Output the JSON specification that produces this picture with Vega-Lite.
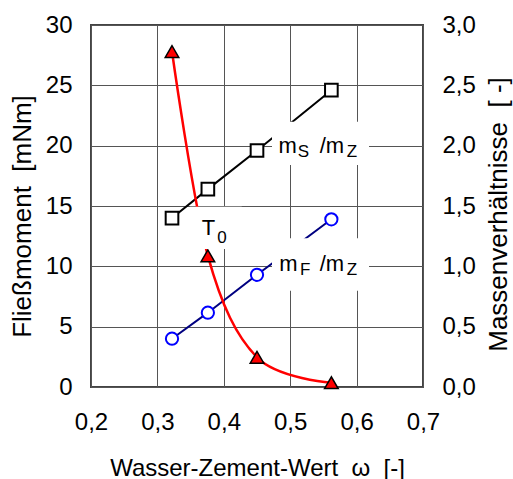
{
  "$schema": "https://vega.github.io/schema/vega-lite/v6.json",
  "width": 332,
  "height": 362,
  "autosize": {"type": "none"},
  "padding": {"left": 91, "top": 25, "right": 90, "bottom": 92},
  "background": "white",
  "config": {
    "font": "Liberation Sans",
    "view": {"stroke": "#444444", "strokeWidth": 2},
    "axis": {
      "labelFont": "Liberation Sans",
      "labelFontSize": 24,
      "labelColor": "#000000",
      "titleFont": "Liberation Sans",
      "titleFontSize": 24,
      "titleFontWeight": "normal",
      "titleColor": "#000000",
      "domain": false,
      "ticks": false,
      "gridColor": "#555555",
      "gridWidth": 1,
      "gridOpacity": 1,
      "labelFlush": false,
      "labelOverlap": false,
      "labelBound": false
    }
  },
  "datasets": {
    "tri": [
      {"w": 0.322, "M": 27.8},
      {"w": 0.376, "M": 10.87},
      {"w": 0.45, "M": 2.46},
      {"w": 0.562, "M": 0.36}
    ],
    "ratio": [
      {"w": 0.322, "r": 1.40, "s": "S"},
      {"w": 0.376, "r": 1.64, "s": "S"},
      {"w": 0.45, "r": 1.96, "s": "S"},
      {"w": 0.562, "r": 2.46, "s": "S"},
      {"w": 0.322, "r": 0.40, "s": "F"},
      {"w": 0.376, "r": 0.616, "s": "F"},
      {"w": 0.45, "r": 0.93, "s": "F"},
      {"w": 0.562, "r": 1.39, "s": "F"}
    ],
    "boxes": [
      {"x1": 0.4726, "x2": 0.6187, "y1": 18.39, "y2": 21.98},
      {"x1": 0.4726, "x2": 0.6187, "y1": 7.98, "y2": 12.32},
      {"x1": 0.349, "x2": 0.427, "y1": 11.43, "y2": 14.94}
    ],
    "mainText": [
      {"t": "m", "x": 0.4824, "y": 19.39},
      {"t": "/m", "x": 0.5445, "y": 19.39},
      {"t": "m", "x": 0.4834, "y": 9.635},
      {"t": "/m", "x": 0.5445, "y": 9.635},
      {"t": "T", "x": 0.3669, "y": 12.59}
    ],
    "subText": [
      {"t": "S", "x": 0.5112, "y": 19.03},
      {"t": "Z", "x": 0.5853, "y": 19.03},
      {"t": "F", "x": 0.5148, "y": 9.28},
      {"t": "Z", "x": 0.5853, "y": 9.28},
      {"t": "0", "x": 0.3902, "y": 11.9}
    ]
  },
  "layer": [
    {
      "layer": [
        {
          "data": {"name": "ratio"},
          "transform": [{"filter": "datum.s === 'S'"}],
          "mark": {"type": "line", "color": "#000000", "strokeWidth": 2},
          "encoding": {
            "x": {"field": "w", "type": "quantitative", "scale": {"domain": [0.2, 0.7], "nice": false, "zero": false},
              "axis": {"values": [0.2, 0.3, 0.4, 0.5, 0.6, 0.7], "labelExpr": "replace(format(datum.value, '.1f'), '.', ',')", "grid": true, "labelPadding": 23, "titlePadding": 22, "title": "Wasser-Zement-Wert\u00a0\u00a0ω\u00a0\u00a0[-]"}},
            "y": {"field": "r", "type": "quantitative", "scale": {"domain": [0, 3], "nice": false, "zero": false},
              "axis": {"orient": "right", "values": [0, 0.5, 1, 1.5, 2, 2.5, 3], "labelExpr": "replace(format(datum.value, '.1f'), '.', ',')", "grid": false, "labelPadding": 19, "titlePadding": 10, "titleAngle": 270, "titleBaseline": "top", "titleFontSize": 26, "titleY": 189, "title": "Massenverhältnisse\u00a0\u00a0[\u00a0-]"}}
          }
        },
        {
          "data": {"name": "ratio"},
          "transform": [{"filter": "datum.s === 'F'"}],
          "mark": {"type": "line", "color": "#000080", "strokeWidth": 2},
          "encoding": {
            "x": {"field": "w", "type": "quantitative"},
            "y": {"field": "r", "type": "quantitative"}
          }
        },
        {
          "data": {"name": "ratio"},
          "transform": [{"filter": "datum.s === 'S'"}],
          "mark": {"type": "point", "shape": "square", "size": 160, "filled": false, "fill": "#ffffff", "fillOpacity": 1, "stroke": "#000000", "strokeWidth": 2, "opacity": 1},
          "encoding": {
            "x": {"field": "w", "type": "quantitative"},
            "y": {"field": "r", "type": "quantitative"}
          }
        },
        {
          "data": {"name": "ratio"},
          "transform": [{"filter": "datum.s === 'F'"}],
          "mark": {"type": "point", "shape": "circle", "size": 150, "filled": false, "fill": "#ffffff", "fillOpacity": 1, "stroke": "#0000ff", "strokeWidth": 2, "opacity": 1},
          "encoding": {
            "x": {"field": "w", "type": "quantitative"},
            "y": {"field": "r", "type": "quantitative"}
          }
        }
      ]
    },
    {
      "layer": [
        {
          "data": {"name": "tri"},
          "mark": {"type": "line", "color": "#ff0000", "strokeWidth": 2.5, "interpolate": "cardinal"},
          "encoding": {
            "x": {"field": "w", "type": "quantitative"},
            "y": {"field": "M", "type": "quantitative", "scale": {"domain": [0, 30], "nice": false, "zero": false},
              "axis": {"orient": "left", "values": [0, 5, 10, 15, 20, 25, 30], "grid": true, "labelPadding": 19, "titlePadding": 10, "titleFontSize": 26, "titleY": 191, "title": "Fließmoment\u00a0\u00a0[mNm]"}}
          }
        },
        {
          "data": {"name": "tri"},
          "mark": {"type": "point", "shape": "triangle-up", "size": 185, "filled": true, "fill": "#ff0000", "stroke": "#000000", "strokeWidth": 1.5, "opacity": 1},
          "encoding": {
            "x": {"field": "w", "type": "quantitative"},
            "y": {"field": "M", "type": "quantitative"}
          }
        },
        {
          "data": {"name": "boxes"},
          "mark": {"type": "rect", "fill": "#ffffff", "stroke": null},
          "encoding": {
            "x": {"field": "x1", "type": "quantitative"},
            "x2": {"field": "x2"},
            "y": {"field": "y1", "type": "quantitative"},
            "y2": {"field": "y2"}
          }
        },
        {
          "data": {"name": "mainText"},
          "mark": {"type": "text", "font": "Liberation Sans", "fontSize": 22, "align": "left", "baseline": "alphabetic", "color": "#000000"},
          "encoding": {
            "x": {"field": "x", "type": "quantitative"},
            "y": {"field": "y", "type": "quantitative"},
            "text": {"field": "t"}
          }
        },
        {
          "data": {"name": "subText"},
          "mark": {"type": "text", "font": "Liberation Sans", "fontSize": 17, "align": "left", "baseline": "alphabetic", "color": "#000000"},
          "encoding": {
            "x": {"field": "x", "type": "quantitative"},
            "y": {"field": "y", "type": "quantitative"},
            "text": {"field": "t"}
          }
        }
      ]
    }
  ],
  "resolve": {"scale": {"y": "independent"}}
}
